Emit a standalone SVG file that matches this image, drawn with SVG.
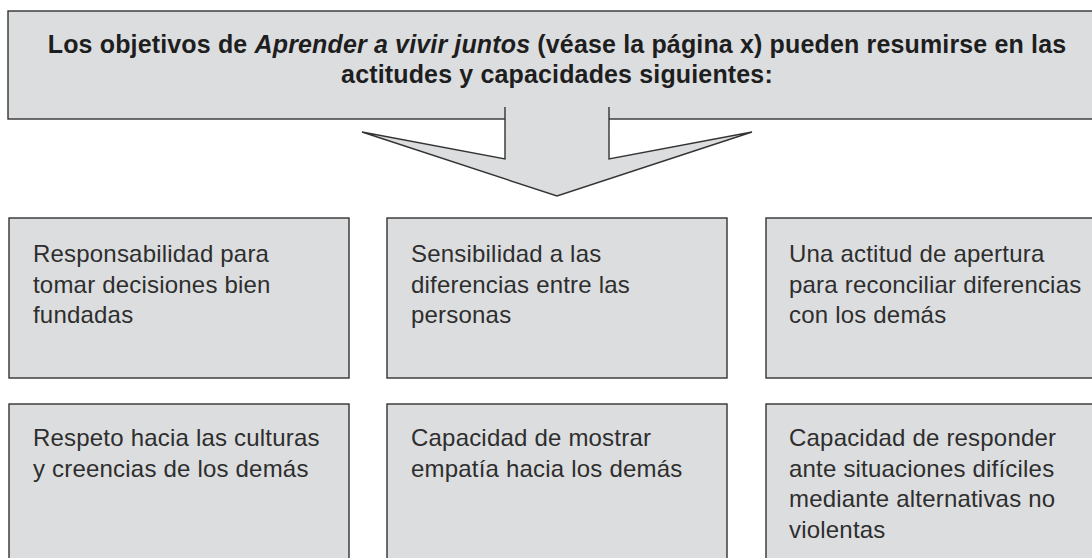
<svg xmlns="http://www.w3.org/2000/svg" width="1092" height="558" viewBox="0 0 1092 558">
<style>
.box{fill:#dcdddf;stroke:#333;stroke-width:1.4}
.t{font-family:"Liberation Sans",Arial,sans-serif;font-size:24px;fill:#2e2e2e;letter-spacing:0.2px}
.h{font-family:"Liberation Sans",Arial,sans-serif;font-size:25px;font-weight:bold;fill:#1e1e1e;text-anchor:middle;letter-spacing:0.15px}
</style>
<rect width="1092" height="558" fill="#fff"/>
<g id="header">
<rect class="box" x="8" y="11" width="1100" height="108"/>
<text class="h" x="557" y="53">Los objetivos de <tspan font-style="italic">Aprender a vivir juntos</tspan> (véase la página x) pueden resumirse en las</text>
<text class="h" x="557" y="83">actitudes y capacidades siguientes:</text>
</g>
<g id="connectors">
<path d="M505,116 V159 L362,132 L557,196 L752,132 L609,159 V116 Z" fill="#dcdddf" stroke="none"/>
<path d="M505,107 V159 L362,132 L557,196 L752,132 L609,159 V107" fill="none" stroke="#333" stroke-width="1.4" stroke-linejoin="miter"/>
</g>
<g id="n1">
<rect class="box" x="9" y="218" width="340" height="160"/>
<text class="t"><tspan x="33" y="262">Responsabilidad para</tspan><tspan x="33" y="292.5">tomar decisiones bien</tspan><tspan x="33" y="323">fundadas</tspan></text>
</g>
<g id="n2">
<rect class="box" x="387" y="218" width="340" height="160"/>
<text class="t"><tspan x="411" y="262">Sensibilidad a las</tspan><tspan x="411" y="292.5">diferencias entre las</tspan><tspan x="411" y="323">personas</tspan></text>
</g>
<g id="n3">
<rect class="box" x="766" y="218" width="340" height="160"/>
<text class="t"><tspan x="789" y="262">Una actitud de apertura</tspan><tspan x="789" y="292.5">para reconciliar diferencias</tspan><tspan x="789" y="323">con los demás</tspan></text>
</g>
<g id="n4">
<rect class="box" x="9" y="404" width="340" height="170"/>
<text class="t"><tspan x="33" y="446">Respeto hacia las culturas</tspan><tspan x="33" y="476.5">y creencias de los demás</tspan></text>
</g>
<g id="n5">
<rect class="box" x="387" y="404" width="340" height="170"/>
<text class="t"><tspan x="411" y="446">Capacidad de mostrar</tspan><tspan x="411" y="476.5">empatía hacia los demás</tspan></text>
</g>
<g id="n6">
<rect class="box" x="766" y="404" width="340" height="170"/>
<text class="t"><tspan x="789" y="446">Capacidad de responder</tspan><tspan x="789" y="476.5">ante situaciones difíciles</tspan><tspan x="789" y="507">mediante alternativas no</tspan><tspan x="789" y="537.5">violentas</tspan></text>
</g>
</svg>
